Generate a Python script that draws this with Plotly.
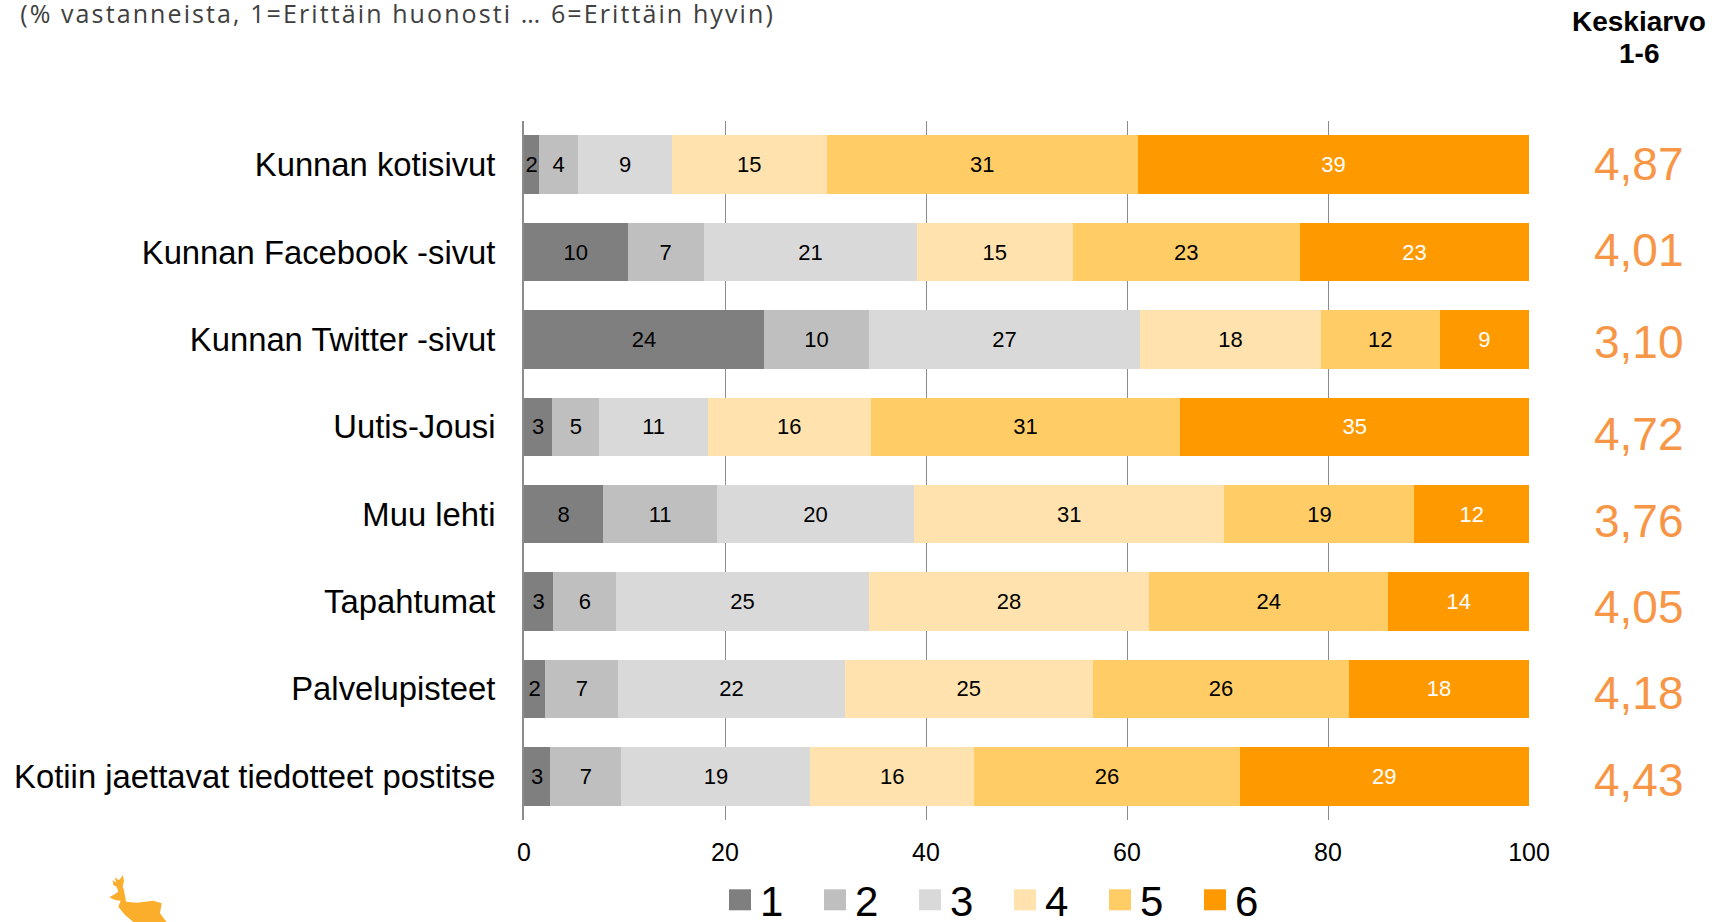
import plotly.graph_objects as go

categories = ["Kunnan kotisivut", "Kunnan Facebook -sivut", "Kunnan Twitter -sivut", "Uutis-Jousi",
              "Muu lehti", "Tapahtumat", "Palvelupisteet", "Kotiin jaettavat tiedotteet postitse"]
s1 = [1.5, 10.3, 23.9, 2.8, 7.9, 2.9, 2.1, 2.6]
s2 = [3.9, 7.6, 10.4, 4.7, 11.3, 6.3, 7.3, 7.1]
s3 = [9.3, 21.2, 27.0, 10.8, 19.6, 25.1, 22.5, 18.8]
s4 = [15.4, 15.5, 18.0, 16.2, 30.9, 27.9, 24.7, 16.3]
s5 = [31.0, 22.6, 11.8, 30.8, 18.9, 23.8, 25.5, 26.4]
s6 = [38.9, 22.8, 8.9, 34.7, 11.4, 14.0, 17.9, 28.8]
l1 = [2, 10, 24, 3, 8, 3, 2, 3]
l2 = [4, 7, 10, 5, 11, 6, 7, 7]
l3 = [9, 21, 27, 11, 20, 25, 22, 19]
l4 = [15, 15, 18, 16, 31, 28, 25, 16]
l5 = [31, 23, 12, 31, 19, 24, 26, 26]
l6 = [39, 23, 9, 35, 12, 14, 18, 29]
series_names = ["1", "2", "3", "4", "5", "6"]
means = ["4,87", "4,01", "3,10", "4,72", "3,76", "4,05", "4,18", "4,43"]
mean_y_px = [164, 250, 342, 434, 520.5, 607, 693, 780]
colors = ["#7F7F7F", "#BFBFBF", "#D9D9D9", "#FFE2AD", "#FFCC66", "#FF9900"]
label_colors = ["#000000"] * 5 + ["#FFFFFF"]

W, H = 1712, 922
L, R, T, B = 524, 1529, 121, 820
FONT = "Liberation Sans"
def px(x): return (x - L) / (R - L)
def py(y): return (B - y) / (B - T)

fig = go.Figure()
for name, v, lab, c, lc in zip(series_names, [s1, s2, s3, s4, s5, s6], [l1, l2, l3, l4, l5, l6], colors, label_colors):
    fig.add_trace(go.Bar(
        y=categories, x=v, name=name, orientation="h", marker=dict(color=c, line_width=0),
        text=lab, textposition="inside", insidetextanchor="middle", textangle=0,
        constraintext="none", cliponaxis=False,
        textfont=dict(family=FONT, size=22, color=lc), showlegend=False, hoverinfo="x+y"))
    fig.add_trace(go.Scatter(
        x=[None], y=[None], mode="markers", name=name,
        marker=dict(symbol="square", size=20, color=c), showlegend=True))

annotations = [
    dict(text="(% vastanneista, 1=Erittäin huonosti … 6=Erittäin hyvin)", x=px(77), y=py(12.5), xref="paper", yref="paper",
         xanchor="left", yanchor="middle", showarrow=False,
         font=dict(family="Open Sans", size=25, color="#404040")),
    dict(text="<b>Keskiarvo</b>", x=px(1639), y=py(21), xref="paper", yref="paper", xanchor="center", yanchor="middle",
         showarrow=False, font=dict(family=FONT, size=28, color="#000000")),
    dict(text="<b>1-6</b>", x=px(1639), y=py(54), xref="paper", yref="paper", xanchor="center", yanchor="middle",
         showarrow=False, font=dict(family=FONT, size=28, color="#000000")),
]
for m, y in zip(means, mean_y_px):
    annotations.append(dict(text=m, x=px(1639), y=py(y), xref="paper", yref="paper", xanchor="center", yanchor="middle",
                            showarrow=False, font=dict(family=FONT, size=46, color="#F79646")))

deer_zoom = [(28, 82), (45, 72), (55, 65), (50, 50), (40, 45), (38, 30), (48, 38), (45, 22), (55, 30), (60, 28), (68, 15),
             (72, 32), (68, 50), (72, 60), (78, 95), (110, 98), (160, 92), (185, 100), (180, 130), (195, 150), (200, 156),
             (100, 156), (75, 135), (55, 110), (62, 92), (45, 90)]
deer_px = [(100 + x / 3, 870 + y / 3) for x, y in deer_zoom]
deer_path = "M" + " L".join(f"{px(x)},{py(y)}" for x, y in deer_px) + " Z"

fig.update_layout(
    width=W, height=H, barmode="stack", bargap=0.33, plot_bgcolor="white", paper_bgcolor="white",
    margin=dict(l=L, r=W - R, t=T, b=H - B, autoexpand=False),
    font=dict(family=FONT, color="#000000"),
    xaxis=dict(range=[0, 100], dtick=20, showgrid=True, gridcolor="#8C8C8C", gridwidth=1, zeroline=False,
               showline=False, ticks="", ticklabelstandoff=15, tickfont=dict(size=25, color="#000000"), layer="below traces"),
    yaxis=dict(categoryorder="array", categoryarray=categories, autorange="reversed", showgrid=False,
               zeroline=False, showline=True, linecolor="#8C8C8C", linewidth=2, ticks="",
               ticklabelstandoff=20, tickfont=dict(size=32.8, color="#000000")),
    legend=dict(orientation="h", x=px(720), y=py(866), xanchor="left", yanchor="top", itemsizing="trace",
                traceorder="normal",
                font=dict(family=FONT, size=42, color="#000000"), itemwidth=30, entrywidth=50,
                tracegroupgap=0, bgcolor="rgba(0,0,0,0)", itemclick=False, itemdoubleclick=False),
    annotations=annotations,
    shapes=[dict(type="path", path=deer_path, xref="paper", yref="paper", fillcolor="#FBAE2B", line_width=0)],
)
post = """
document.body.style.margin='0';
document.documentElement.style.overflow='hidden';
var t=document.querySelector('.annotation-text');
if(t){t.style.letterSpacing='2.1px';}
document.querySelectorAll('.legend .scatterpts path, .legend .legendpoints path').forEach(function(p){
  p.setAttribute('d','M11,10.5H-11V-10.5H11Z');
});
"""
fig.write_html("out.html", config={"displayModeBar": False}, post_script=post)
